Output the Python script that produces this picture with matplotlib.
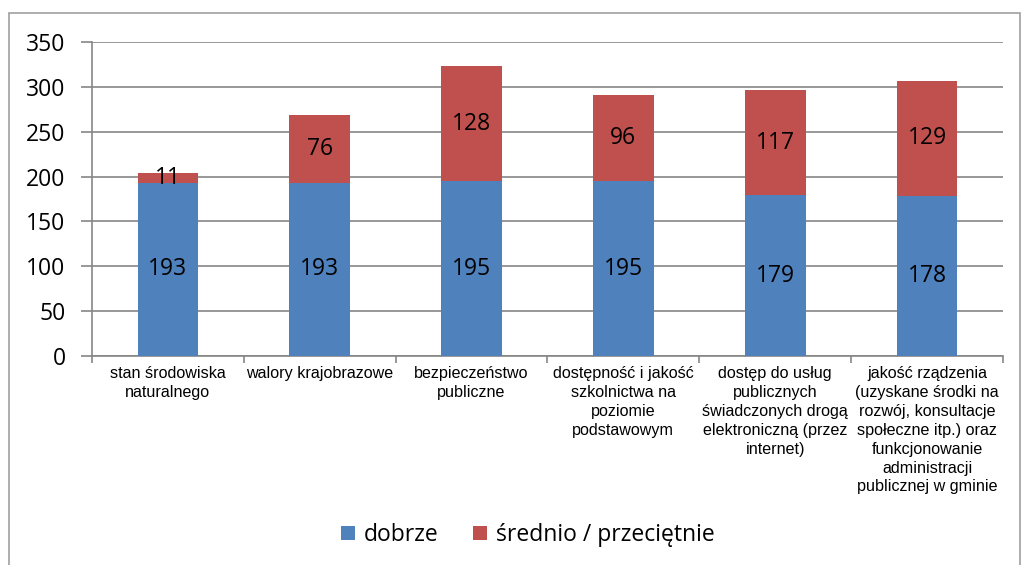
import matplotlib
matplotlib.use("Agg")
import matplotlib.pyplot as plt
from matplotlib.patches import Rectangle
from matplotlib import font_manager as fm
import numpy as np

categories = [
    "stan środowiska\nnaturalnego",
    "walory krajobrazowe",
    "bezpieczeństwo\npubliczne",
    "dostępność i jakość\nszkolnictwa na\npoziomie\npodstawowym",
    "dostęp do usług\npublicznych\nświadczonych drogą\nelektroniczną (przez\ninternet)",
    "jakość rządzenia\n(uzyskane środki na\nrozwój, konsultacje\nspołeczne itp.) oraz\nfunkcjonowanie\nadministracji\npublicznej w gminie",
]
dobrze = [193, 193, 195, 195, 179, 178]
srednio = [11, 76, 128, 96, 117, 129]
series_names = ["dobrze", "średnio / przeciętnie"]
yticks = [0, 50, 100, 150, 200, 250, 300, 350]

BLUE = "#4F81BD"
RED = "#C0504D"
GRID = "#868686"

# locate regular Liberation Sans (not Narrow)
lib_path = None
for f in fm.fontManager.ttflist:
    if f.name == "Liberation Sans" and f.style == "normal" and f.weight in (400, "normal", "regular"):
        lib_path = f.fname
        break
if lib_path:
    cat_fp = fm.FontProperties(fname=lib_path, size=11.6)
else:
    cat_fp = fm.FontProperties(family="DejaVu Sans", size=10.5)

BIG = 16.5

fig = plt.figure(figsize=(10.23, 5.65), dpi=100)
W, H = 1023, 565
ax = fig.add_axes([92 / W, 1 - 356 / H, (1003 - 92) / W, (356 - 42) / H])

x = np.arange(len(categories))
b1 = ax.bar(x, dobrze, width=0.4, color=BLUE, label=series_names[0], zorder=3)
b2 = ax.bar(x, srednio, width=0.4, bottom=dobrze, color=RED, label=series_names[1], zorder=3)

for i in range(len(categories)):
    ax.text(x[i], dobrze[i] / 2, str(dobrze[i]), ha="center", va="center",
            fontsize=BIG, family="Open Sans", zorder=4)
    ax.text(x[i], dobrze[i] + srednio[i] / 2, str(srednio[i]), ha="center", va="center",
            fontsize=BIG, family="Open Sans", zorder=4)

ax.set_xlim(-0.5, len(categories) - 0.5)
ax.set_ylim(0, 350)
ax.set_yticks(yticks)
ax.set_yticklabels([str(v) for v in yticks], fontsize=BIG, family="Open Sans")
ax.yaxis.grid(True, color=GRID, linewidth=1.2, zorder=0)
ax.set_axisbelow(True)

ax.set_xticks(x)
ax.set_xticklabels(categories, fontproperties=cat_fp, linespacing=1.33, va="top")
ax.tick_params(axis="x", length=0, pad=7)
ax.set_xticks(np.arange(-0.5, len(categories)), minor=True)
ax.tick_params(axis="x", which="minor", length=5, color=GRID, width=1.2)
ax.tick_params(axis="y", length=8, color=GRID, width=1.2, pad=11)

for s in ["top", "right"]:
    ax.spines[s].set_visible(False)
for s in ["left", "bottom"]:
    ax.spines[s].set_color(GRID)
    ax.spines[s].set_linewidth(1.2)

leg = fig.legend(handles=[b1, b2], labels=series_names, loc="center",
                 bbox_to_anchor=(528 / W, 1 - 535 / H), ncol=2, frameon=False,
                 prop={"family": "Open Sans", "size": BIG}, handlelength=0.6,
                 handleheight=0.6, handletextpad=0.4, columnspacing=1.5)

fig.patches.append(Rectangle((9 / W, -0.05), (1020 - 9) / W, 1 - 13 / H + 0.05,
                             transform=fig.transFigure, fill=False,
                             edgecolor="#A0A0A0", linewidth=1.2))

fig.savefig("out.png", dpi=100)
